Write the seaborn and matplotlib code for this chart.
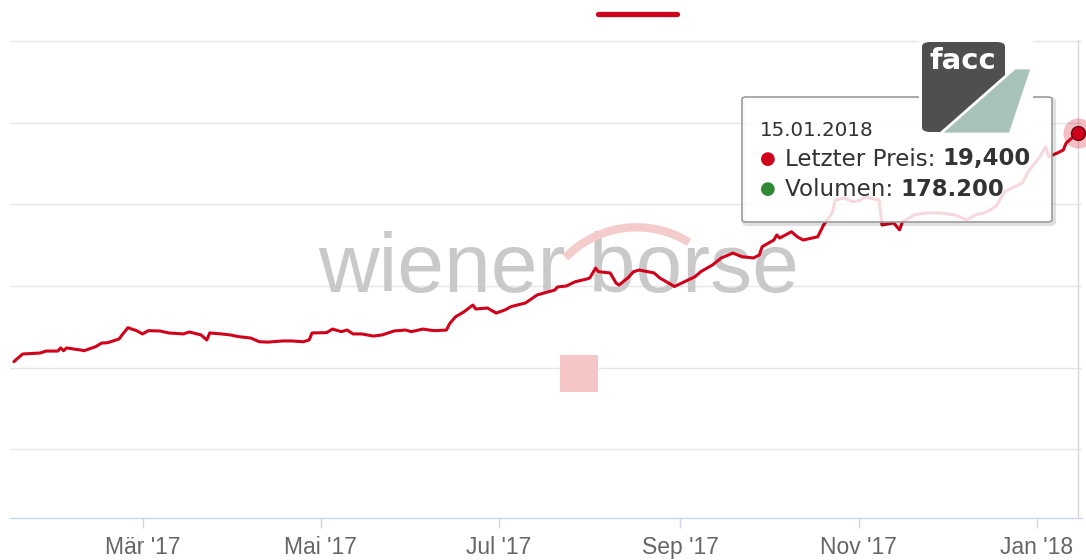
import pandas as pd
import matplotlib
matplotlib.use("Agg")
import matplotlib.pyplot as plt
import matplotlib.dates as mdates
from matplotlib.ticker import MultipleLocator, FuncFormatter
from matplotlib.patches import FancyBboxPatch, Rectangle, Polygon, Arc
from matplotlib.transforms import IdentityTransform
from matplotlib.lines import Line2D
import seaborn as sns

# FACC Schlusskurse
dates = [
    "2017-01-16", "2017-01-19", "2017-01-25", "2017-01-27", "2017-01-31", "2017-02-01", "2017-02-02", "2017-02-03", "2017-02-08", "2017-02-09",
    "2017-02-13", "2017-02-15", "2017-02-17", "2017-02-21", "2017-02-22", "2017-02-24", "2017-02-27", "2017-03-01", "2017-03-03", "2017-03-07",
    "2017-03-10", "2017-03-15", "2017-03-17", "2017-03-21", "2017-03-23", "2017-03-24", "2017-03-28", "2017-03-31", "2017-04-03", "2017-04-07",
    "2017-04-10", "2017-04-13", "2017-04-18", "2017-04-21", "2017-04-25", "2017-04-27", "2017-04-28", "2017-05-03", "2017-05-05", "2017-05-08",
    "2017-05-10", "2017-05-12", "2017-05-15", "2017-05-19", "2017-05-22", "2017-05-26", "2017-05-30", "2017-06-01", "2017-06-05", "2017-06-07",
    "2017-06-09", "2017-06-13", "2017-06-14", "2017-06-16", "2017-06-19", "2017-06-22", "2017-06-23", "2017-06-27", "2017-06-30", "2017-07-03",
    "2017-07-05", "2017-07-10", "2017-07-12", "2017-07-14", "2017-07-20", "2017-07-21", "2017-07-24", "2017-07-27", "2017-07-31", "2017-08-01",
    "2017-08-03", "2017-08-04", "2017-08-08", "2017-08-10", "2017-08-11", "2017-08-14", "2017-08-16", "2017-08-18", "2017-08-23", "2017-08-25",
    "2017-08-30", "2017-09-04", "2017-09-06", "2017-09-08", "2017-09-12", "2017-09-15", "2017-09-19", "2017-09-22", "2017-09-26", "2017-09-28",
    "2017-09-29", "2017-10-03", "2017-10-04", "2017-10-05", "2017-10-09", "2017-10-11", "2017-10-13", "2017-10-16", "2017-10-18", "2017-10-20",
    "2017-10-23", "2017-10-24", "2017-10-27", "2017-10-30", "2017-11-02", "2017-11-03", "2017-11-08", "2017-11-09", "2017-11-13", "2017-11-15",
    "2017-11-16", "2017-11-20", "2017-11-24", "2017-11-29", "2017-12-04", "2017-12-08", "2017-12-11", "2017-12-14", "2017-12-18", "2017-12-21",
    "2017-12-27", "2017-12-29", "2018-01-02", "2018-01-04", "2018-01-05", "2018-01-08", "2018-01-10", "2018-01-11", "2018-01-15",
]
prices = [
    5.36, 5.83, 5.89, 6.01, 6.01, 6.20, 6.03, 6.20, 6.07, 6.03,
    6.28, 6.50, 6.52, 6.75, 7.00, 7.44, 7.26, 7.06, 7.26, 7.24,
    7.12, 7.06, 7.18, 7.00, 6.69, 7.12, 7.06, 7.00, 6.89, 6.81,
    6.58, 6.56, 6.63, 6.63, 6.58, 6.69, 7.12, 7.14, 7.36, 7.20,
    7.30, 7.06, 7.06, 6.93, 7.00, 7.24, 7.30, 7.20, 7.36, 7.30,
    7.26, 7.30, 7.67, 8.10, 8.42, 8.83, 8.59, 8.65, 8.34, 8.53,
    8.73, 8.96, 9.20, 9.45, 9.75, 9.94, 10.00, 10.26, 10.43, 10.49,
    11.10, 10.88, 10.80, 10.18, 10.06, 10.49, 10.88, 10.98, 10.80, 10.49,
    9.97, 10.40, 10.57, 10.88, 11.29, 11.72, 12.02, 11.80, 11.72, 11.90,
    12.41, 12.82, 13.13, 12.94, 13.33, 13.02, 12.82, 12.94, 13.02, 13.74,
    14.48, 15.28, 15.40, 15.17, 15.28, 15.46, 15.28, 13.74, 13.87, 13.44,
    13.94, 14.36, 14.48, 14.48, 14.36, 14.05, 14.36, 14.48, 14.87, 15.79,
    16.32, 17.01, 17.93, 18.55, 17.93, 18.16, 18.34, 18.77, 19.40,
]
last_volume = 178200
month_names = ["Jan", "Feb", "Mär", "Apr", "Mai", "Jun", "Jul", "Aug", "Sep", "Okt", "Nov", "Dez"]

W, H = 1086, 560
RED = "#d0021b"
GREEN = "#2f8a35"

def fx(x):
    return x / W

def fy(y):
    return 1 - y / H

df = pd.DataFrame({"datum": pd.to_datetime(dates), "preis": prices})

sns.set_style("white")
plt.rcParams["font.family"] = ["DejaVu Sans"]

fig = plt.figure(figsize=(W / 100, H / 100), dpi=100)
ax = fig.add_axes([fx(10), fy(518), 1072 / W, 478 / H])

sns.lineplot(data=df, x="datum", y="preis", color=RED, linewidth=2.2, ax=ax, zorder=3)

last_d = df["datum"].iloc[-1]
last_p = df["preis"].iloc[-1]

ax.axvline(last_d, color="#d8d8d8", lw=1, zorder=1)
ax.scatter([last_d], [last_p], s=470, color=RED, alpha=0.25, lw=0, zorder=6, clip_on=False)
ax.scatter([last_d], [last_p], s=100, color=RED, edgecolor="#6e0010", lw=1, zorder=7, clip_on=False)

ax.set_xlim(pd.Timestamp("2017-01-14 16:00"), pd.Timestamp("2018-01-16 10:00"))
ax.set_ylim(-4.23, 25.09)
ax.yaxis.set_major_locator(MultipleLocator(5))
ax.set_axisbelow(True)
ax.grid(axis="y", color="#e6e6e6", lw=1)
ax.grid(axis="x", visible=False)
ax.tick_params(axis="y", left=False, labelleft=False)

ax.xaxis.set_major_locator(mdates.MonthLocator(bymonth=[1, 3, 5, 7, 9, 11]))
ax.xaxis.set_major_formatter(FuncFormatter(
    lambda v, p: f"{month_names[mdates.num2date(v).month - 1]} '{mdates.num2date(v):%y}"))
ax.tick_params(axis="x", bottom=True, length=7.2, width=1, color="#ccd6eb",
               labelcolor="#666666", labelsize=16.5, pad=5.5,
               labelfontfamily="Liberation Sans")
for s in ["top", "right", "left"]:
    ax.spines[s].set_visible(False)
ax.spines["bottom"].set_color("#ccd6eb")
ax.spines["bottom"].set_linewidth(1)
ax.set_xlabel("")
ax.set_ylabel("")

# Wasserzeichen
ax.text(fx(559), fy(292), "wiener borse", transform=fig.transFigure, ha="center", va="baseline",
        fontsize=60.5, color="#c9c9c9", family="Liberation Sans", zorder=1)
ax.add_patch(Arc((636.6, H - 326.2), 2 * 98.9, 2 * 98.9, theta1=58, theta2=136,
                 transform=IdentityTransform(), color="#f5cccc", lw=6, zorder=1.5))

fig.add_artist(Rectangle((fx(560), fy(392)), 38 / W, 37 / H, transform=fig.transFigure,
                         color="#f6c6c6", lw=0, zorder=2))

# Legende
fig.legend(handles=[Line2D([], [], color=RED, lw=3.8)], labels=[""], loc="center",
           bbox_to_anchor=(fx(637.5), fy(15)), frameon=False, handlelength=5.7,
           handletextpad=0, borderpad=0, fontsize=10)

# Tooltip
fig.add_artist(FancyBboxPatch((fx(744), fy(224)), 310 / W, 125 / H,
                              boxstyle="round,pad=0,rounding_size=0.004", transform=fig.transFigure,
                              fc="none", ec=(0, 0, 0, 0.12), lw=3, zorder=2.9))
fig.add_artist(FancyBboxPatch((fx(742), fy(222)), 310 / W, 125 / H,
                              boxstyle="round,pad=0,rounding_size=0.004", transform=fig.transFigure,
                              fc=(1, 1, 1, 0.85), ec="#9c9c9c", lw=1.2, zorder=3))

fig.text(fx(760), fy(130), last_d.strftime("%d.%m.%Y"), fontsize=14.3, color="#333333",
         va="center", zorder=4)

renderer = fig.canvas.get_renderer()

def tooltip_row(y, bullet_color, label, value):
    fig.text(fx(768), fy(y), "●", color=bullet_color, fontsize=13, ha="center", va="center", zorder=4)
    t = fig.text(fx(785), fy(y), label + " ", fontsize=16.6, color="#333333", va="center", zorder=4)
    ext = t.get_window_extent(renderer)
    fig.text(ext.x1 / W, fy(y), value, fontsize=16.4, fontweight="bold", color="#333333",
             va="center", zorder=4)

tooltip_row(159, RED, "Letzter Preis:", f"{last_p:.3f}".replace(".", ","))
tooltip_row(189, GREEN, "Volumen:", f"{last_volume:,}".replace(",", "."))

# Logo
fig.add_artist(Rectangle((fx(919), fy(137)), 114 / W, 97 / H, transform=fig.transFigure,
                         color="white", lw=0, zorder=5))
fig.add_artist(FancyBboxPatch((fx(922), fy(132)), 83 / W, 90 / H,
                              boxstyle="round,pad=0,rounding_size=0.008", transform=fig.transFigure,
                              fc="#4f4f4f", ec="none", zorder=6))
fig.add_artist(Polygon([(fx(940), fy(134)), (fx(1015), fy(68)), (fx(1032), fy(68)), (fx(1010), fy(134))],
                       closed=True, transform=fig.transFigure, fc="#a6c2b9", ec="white", lw=2, zorder=7))
fig.text(fx(963), fy(61), "facc", color="white", fontsize=21, fontweight="bold",
         ha="center", va="center", zorder=8)

fig.savefig("out.png", dpi=100)
